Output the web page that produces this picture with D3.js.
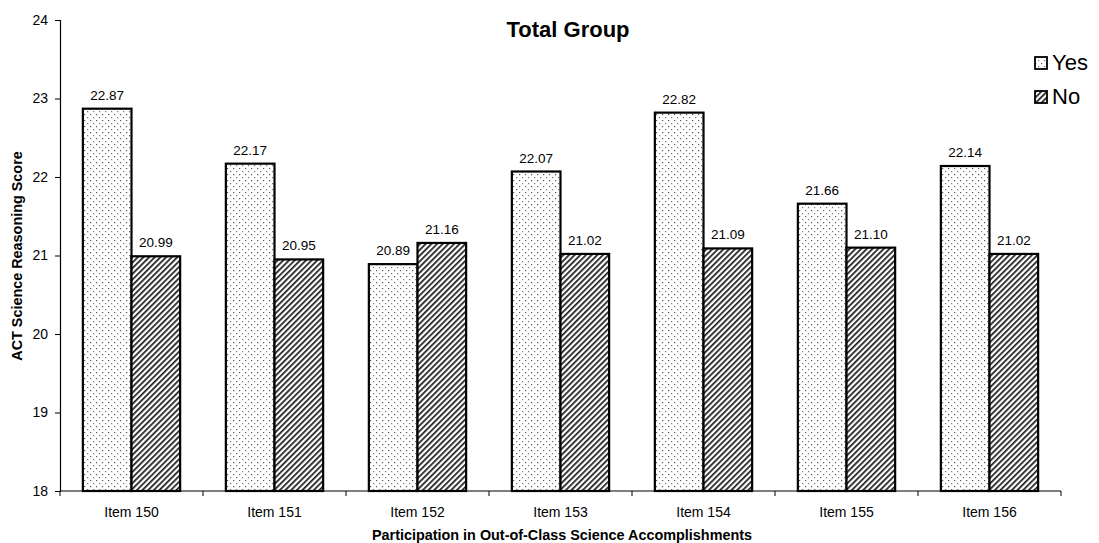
<!DOCTYPE html>
<html>
<head>
<meta charset="utf-8">
<script src="https://cdn.jsdelivr.net/npm/d3@7"></script>
<style>
  body { margin: 0; background: #fff; }
  text { font-family: Arial, "Liberation Sans", sans-serif; fill: #000; }
</style>
</head>
<body>
<svg id="chart" width="1099" height="543"></svg>
<script>
// chart data
const items = ['Item 150', 'Item 151', 'Item 152', 'Item 153', 'Item 154', 'Item 155', 'Item 156'];
const seriesNames = ['Yes', 'No'];
const yesScores = [22.87, 22.17, 20.89, 22.07, 22.82, 21.66, 22.14];
const noScores = [20.99, 20.95, 21.16, 21.02, 21.09, 21.10, 21.02];
const yTicks = [18, 19, 20, 21, 22, 23, 24];

const svg = d3.select('#chart');

// patterns: dots for Yes, hatching for No
const defs = svg.append('defs');
const dots = defs.append('pattern')
  .attr('id', 'dots')
  .attr('patternUnits', 'userSpaceOnUse')
  .attr('width', 6).attr('height', 6);
dots.append('rect').attr('width', 6).attr('height', 6).attr('fill', '#fff');
dots.append('rect').attr('x', 0).attr('y', 0).attr('width', 1.2).attr('height', 1.2).attr('fill', '#555');
dots.append('rect').attr('x', 3).attr('y', 3).attr('width', 1.2).attr('height', 1.2).attr('fill', '#777');

const hatch = defs.append('pattern')
  .attr('id', 'hatch')
  .attr('patternUnits', 'userSpaceOnUse')
  .attr('width', 4).attr('height', 4)
  .attr('patternTransform', 'rotate(45)');
hatch.append('rect').attr('width', 4).attr('height', 4).attr('fill', '#fff');
hatch.append('rect').attr('x', 0).attr('y', 0).attr('width', 1.7).attr('height', 4).attr('fill', '#1a1a1a');

const fills = { Yes: 'url(#dots)', No: 'url(#hatch)' };

// layout
const plotLeft = 60, plotRight = 1061, plotTop = 20, plotBottom = 491;

const x = d3.scaleBand().domain(items).range([plotLeft, plotRight]).paddingInner(0).paddingOuter(0);
const xSub = d3.scaleBand().domain(seriesNames).range([0, x.bandwidth()]).paddingInner(0).paddingOuter(0.47);
const y = d3.scaleLinear().domain([18, 24]).range([plotBottom, plotTop]);

const rows = items.map((name, i) => ({ name, Yes: yesScores[i], No: noScores[i] }));

// bars
const groups = svg.append('g').selectAll('g.group')
  .data(rows)
  .join('g')
  .attr('transform', d => `translate(${x(d.name)},0)`);

groups.selectAll('rect')
  .data(d => seriesNames.map(s => ({ s, v: d[s] })))
  .join('rect')
  .attr('x', d => xSub(d.s))
  .attr('y', d => y(d.v))
  .attr('width', xSub.bandwidth())
  .attr('height', d => y(18) - y(d.v))
  .attr('fill', d => fills[d.s])
  .attr('stroke', '#000')
  .attr('stroke-width', 2.2);

groups.selectAll('text.value')
  .data(d => seriesNames.map(s => ({ s, v: d[s] })))
  .join('text')
  .classed('value', true)
  .attr('x', d => xSub(d.s) + xSub.bandwidth() / 2)
  .attr('y', d => y(d.v) - 9)
  .attr('text-anchor', 'middle')
  .style('font-size', '13.5px')
  .text(d => d.v.toFixed(2));

// y axis
const yAxis = svg.append('g')
  .attr('transform', `translate(${plotLeft},0)`)
  .call(d3.axisLeft(y).tickValues(yTicks).tickSize(5).tickPadding(7).tickFormat(d3.format('d')));
yAxis.select('.domain').attr('stroke', '#000').attr('stroke-width', 1.2);
yAxis.selectAll('.tick text').style('font-size', '14px').style('font-family', 'Arial, "Liberation Sans", sans-serif');

// x axis: ticks on category boundaries
svg.append('line')
  .attr('x1', plotLeft).attr('x2', plotRight)
  .attr('y1', plotBottom).attr('y2', plotBottom)
  .attr('stroke', '#000').attr('stroke-width', 1.2);
svg.append('g').selectAll('line')
  .data(items.concat(['end']))
  .join('line')
  .attr('x1', (d, i) => plotLeft + i * x.bandwidth())
  .attr('x2', (d, i) => plotLeft + i * x.bandwidth())
  .attr('y1', plotBottom).attr('y2', plotBottom + 5)
  .attr('stroke', '#000');
svg.append('g').selectAll('text')
  .data(items)
  .join('text')
  .attr('x', d => x(d) + x.bandwidth() / 2)
  .attr('y', plotBottom + 26)
  .attr('text-anchor', 'middle')
  .style('font-size', '14px')
  .text(d => d);

// titles
svg.append('text')
  .attr('x', 568).attr('y', 37)
  .attr('text-anchor', 'middle')
  .style('font-size', '22px').style('font-weight', 'bold')
  .text('Total Group');

svg.append('text')
  .attr('x', 562).attr('y', 540)
  .attr('text-anchor', 'middle')
  .style('font-size', '14.4px').style('font-weight', 'bold')
  .text('Participation in Out-of-Class Science Accomplishments');

svg.append('text')
  .attr('transform', 'translate(22,256) rotate(-90)')
  .attr('text-anchor', 'middle')
  .style('font-size', '14.4px').style('font-weight', 'bold')
  .text('ACT Science Reasoning Score');

// legend
const legend = svg.append('g').selectAll('g')
  .data(seriesNames)
  .join('g')
  .attr('transform', (d, i) => `translate(1035,${57 + i * 34})`);
legend.append('rect')
  .attr('width', 12).attr('height', 12)
  .attr('fill', d => fills[d])
  .attr('stroke', '#000').attr('stroke-width', 1.8);
legend.append('text')
  .attr('x', 17).attr('y', 12.5)
  .style('font-size', '22px')
  .text(d => d);
</script>
</body>
</html>
